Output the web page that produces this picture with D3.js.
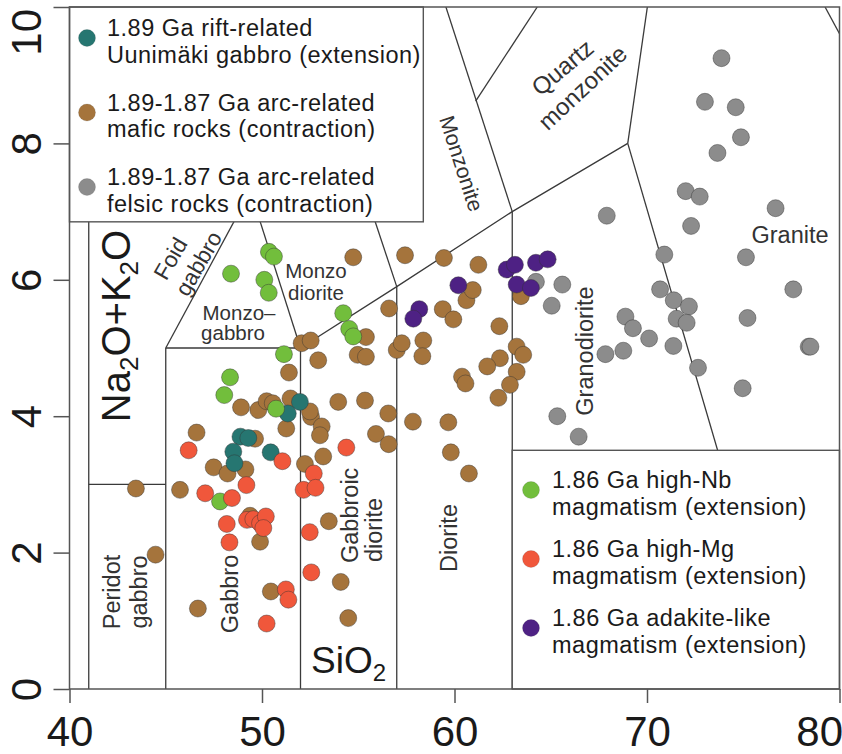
<!DOCTYPE html>
<html>
<head>
<meta charset="utf-8">
<title>TAS plutonic diagram</title>
<script src="https://cdn.jsdelivr.net/npm/d3@7"></script>
<style>
  body { margin: 0; background: #fff; }
  svg { font-family: "Liberation Sans", Arial, sans-serif; }
</style>
</head>
<body>
<div id="chart"></div>
<script>
// SiO2 (wt%) vs Na2O+K2O (wt%) for each group
var riftGabbro = [[48.88,3.70],[49.29,3.68],[48.51,3.48],[48.57,3.31],[50.45,3.47],[51.34,4.04],[51.97,4.21]];

var arcMafic = [[43.45,2.94],[44.47,1.97],[46.60,3.76],[45.74,2.92],[46.67,1.18],[47.49,3.25],[48.21,3.16],
  [49.14,3.22],[48.91,4.13],[49.81,4.09],[50.24,4.22],[50.56,4.19],[51.48,4.26],[51.26,3.82],[51.40,4.64],
  [49.64,3.67],[49.38,2.54],[49.90,2.16],[50.46,1.43],[52.23,3.30],[52.55,3.99],[52.49,4.07],[53.10,3.85],
  [53.01,3.72],[53.18,3.41],[53.47,2.46],[53.96,4.21],[55.35,4.23],[55.92,3.74],[56.56,4.04],[56.58,3.59],
  [54.09,1.57],[54.48,1.04],[57.84,3.92],[59.68,3.91],[59.81,3.47],[60.75,3.16],[52.06,5.07],[52.53,5.11],
  [52.92,4.82],[54.74,6.33],[57.43,6.36],[59.45,6.32],[56.60,5.58],[55.40,5.16],[54.97,4.90],[55.40,4.87],
  [57.00,4.97],[57.26,5.07],[58.38,5.11],[58.33,4.88],[59.39,5.57],[59.94,5.42],[60.62,5.70],[60.95,5.85],
  [61.24,6.22],[62.33,5.32],[63.45,5.76],[63.23,5.02],[63.57,4.90],[62.36,4.85],[61.70,4.73],[63.23,4.65],
  [62.88,4.46],[62.28,4.27],[60.39,4.58],[60.57,4.48]];

var arcFelsic = [[73.87,9.25],[73.01,8.61],[74.61,8.53],[74.88,8.09],[73.66,7.86],[72.01,7.30],[72.74,7.22],
  [76.68,7.05],[67.91,6.94],[72.29,6.79],[70.90,6.37],[75.14,6.33],[77.60,5.86],[70.68,5.86],[71.39,5.70],
  [72.18,5.61],[68.88,5.46],[71.54,5.43],[72.06,5.37],[75.22,5.44],[69.27,5.29],[70.11,5.14],[71.37,5.03],
  [78.40,5.02],[78.49,5.02],[68.77,4.96],[67.84,4.91],[72.65,4.71],[74.97,4.41],[65.34,4.00],[66.45,3.70],
  [64.23,5.97],[65.60,5.93],[65.05,5.62]];

var highNb = [[48.39,6.09],[50.36,6.41],[50.62,6.34],[50.12,6.00],[50.35,5.81],[51.14,4.91],[48.34,4.57],
  [48.04,4.31],[50.73,4.11],[47.82,2.75],[54.22,5.51],[54.53,5.28],[54.74,5.17]];

var highMg = [[46.19,3.50],[47.05,2.87],[48.44,2.80],[49.19,2.99],[51.06,3.34],[48.17,2.42],[48.31,2.15],
  [49.22,2.48],[49.55,2.49],[49.90,2.43],[50.20,2.53],[50.07,2.36],[52.16,2.92],[52.69,3.16],[52.78,2.95],
  [54.38,3.54],[52.48,2.30],[52.56,1.71],[51.24,1.46],[51.37,1.31],[50.24,0.96]];

var adakite = [[60.20,5.92],[58.17,5.57],[57.86,5.43],[62.71,6.15],[63.14,6.22],[64.23,6.25],[64.84,6.30],
  [63.23,5.93],[63.97,5.88]];

var xTicks = [40, 50, 60, 70, 80];
var yTicks = [0, 2, 4, 6, 8, 10];

// field boundaries of the plutonic TAS diagram (Middlemost 1994)
var fieldLines = [
  [[41,0],[41,7]],
  [[41,3],[45,3]],
  [[45,0],[45,5]],
  [[45,5],[52,5]],
  [[45,5],[49.4,7.3]],
  [[52,0],[52,5]],
  [[52,5],[49.4,7.3]],
  [[52,5],[57,5.9],[63,7],[69,8]],
  [[57,0],[57,5.9]],
  [[57,5.9],[53,9.3]],
  [[63,0],[63,7]],
  [[63,7],[57.6,11.7]],
  [[61.1,8.62],[64.3,10]],
  [[69,8],[77.3,0]],
  [[69,8],[71.8,13.5]],
  [[79.25,10],[80,9.61]]
];

var legendTop = [
  {name: "1.89 Ga rift-related", sub: "Uunimäki gabbro (extension)", color: "#267671"},
  {name: "1.89-1.87 Ga arc-related", sub: "mafic rocks (contraction)", color: "#a5743c"},
  {name: "1.89-1.87 Ga arc-related", sub: "felsic rocks (contraction)", color: "#8c8c8c"}
];
var legendBottom = [
  {name: "1.86 Ga high-Nb", sub: "magmatism (extension)", color: "#72be3c"},
  {name: "1.86 Ga high-Mg", sub: "magmatism (extension)", color: "#f0573b"},
  {name: "1.86 Ga adakite-like", sub: "magmatism (extension)", color: "#4e2184"}
];

var W = 842, H = 754;
var x = d3.scaleLinear().domain([40, 80]).range([69.5, 839.5]);
var y = d3.scaleLinear().domain([0, 10]).range([689, 7]);

var svg = d3.select("#chart").append("svg")
  .attr("width", W).attr("height", H);

svg.append("clipPath").attr("id", "plotclip")
  .append("rect")
  .attr("x", x(40)).attr("y", y(10))
  .attr("width", x(80) - x(40)).attr("height", y(0) - y(10));

// field boundary lines
var line = d3.line().x(function(d) { return x(d[0]); }).y(function(d) { return y(d[1]); });
svg.append("g").attr("clip-path", "url(#plotclip)")
  .selectAll("path").data(fieldLines).enter().append("path")
  .attr("d", line)
  .attr("fill", "none")
  .attr("stroke", "#3a3a3a")
  .attr("stroke-width", 1.3);

// field names
var fl = svg.append("g").attr("fill", "#333");
function fieldText(txt, px, py, rot, anchor, size) {
  fl.append("text")
    .attr("transform", "translate(" + px + "," + py + ") rotate(" + rot + ")")
    .attr("text-anchor", anchor || "middle")
    .attr("font-size", size || 23.5)
    .text(txt);
}
fieldText("Peridot", 120, 592, -90);
fieldText("gabbro", 146.5, 592, -90);
fieldText("Gabbro", 237.5, 594, -90);
fieldText("Gabbroic", 358, 563, -90, "start");
fieldText("diorite", 381.5, 562, -90, "start");
fieldText("Diorite", 456.5, 538, -90);
fieldText("Granodiorite", 593, 351, -90);
fieldText("Granite", 751.5, 242.5, 0, "start", 23.5);
fieldText("Monzo", 316, 278, 0, "middle", 20.5);
fieldText("diorite", 316, 300, 0, "middle", 20.5);
fieldText("Monzo\u2013", 239, 320, 0, "middle", 20.5);
fieldText("gabbro", 233, 340, 0, "middle", 20.5);

function rotText(txt, px, py, rot, size) {
  fl.append("text")
    .attr("transform", "translate(" + px + "," + py + ") rotate(" + rot + ")")
    .attr("text-anchor", "middle")
    .attr("dy", "0.35em")
    .attr("font-size", size)
    .text(txt);
}
rotText("Monzonite", 461.5, 163.5, 72, 21.5);
rotText("Quartz", 562.5, 67.5, -40, 24);
rotText("monzonite", 582.5, 87.5, -43, 24);
rotText("Foid", 170.5, 258.5, -60, 22.5);
rotText("gabbro", 198.5, 263.5, -60, 22.5);

// legend boxes sit over the field lines
svg.append("rect")
  .attr("x", x(40)).attr("y", y(10))
  .attr("width", x(58.38) - x(40)).attr("height", y(6.85) - y(10))
  .attr("fill", "#fff").attr("stroke", "#555").attr("stroke-width", 1.4);
svg.append("rect")
  .attr("x", x(63)).attr("y", y(3.5))
  .attr("width", x(80) - x(63)).attr("height", y(0) - y(3.5))
  .attr("fill", "#fff").attr("stroke", "#555").attr("stroke-width", 1.4);

// plot frame
svg.append("rect")
  .attr("x", x(40)).attr("y", y(10))
  .attr("width", x(80) - x(40)).attr("height", y(0) - y(10))
  .attr("fill", "none").attr("stroke", "#555").attr("stroke-width", 1.5);

// axes
var xAxis = svg.append("g")
  .attr("transform", "translate(0," + y(0) + ")")
  .call(d3.axisBottom(x).tickValues(xTicks).tickSize(14).tickFormat(d3.format("d")));
var yAxis = svg.append("g")
  .attr("transform", "translate(" + x(40) + ",0)")
  .call(d3.axisLeft(y).tickValues(yTicks).tickSize(16).tickFormat(d3.format("d")));

[xAxis, yAxis].forEach(function(g) {
  g.select(".domain").remove();
  g.selectAll(".tick line").attr("stroke", "#555").attr("stroke-width", 1.5);
  g.selectAll(".tick text").attr("fill", "#1a1a1a").attr("font-size", 42)
    .attr("font-family", "Liberation Sans, Arial, sans-serif");
});
xAxis.selectAll(".tick text").attr("y", 57).attr("dy", 0)
  .attr("text-anchor", function(d) { return d === 80 ? "end" : "middle"; })
  .attr("x", function(d) { return d === 80 ? 3 : 0; });
yAxis.selectAll(".tick text")
  .attr("transform", "rotate(-90)")
  .attr("dy", 0).attr("y", -29)
  .attr("text-anchor", function(d) { return d === 10 ? "end" : "middle"; })
  .attr("x", function(d) { return d === 10 ? -1.5 : 0; });

// axis titles
var yt = svg.append("text")
  .attr("transform", "translate(130,326) rotate(-90)")
  .attr("text-anchor", "middle").attr("font-size", 40).attr("fill", "#1a1a1a");
yt.append("tspan").text("Na");
yt.append("tspan").attr("font-size", 26).attr("dy", 8).text("2");
yt.append("tspan").attr("dy", -8).text("O+K");
yt.append("tspan").attr("font-size", 26).attr("dy", 8).text("2");
yt.append("tspan").attr("dy", -8).text("O");

var xt = svg.append("text")
  .attr("x", 311).attr("y", 673)
  .attr("font-size", 37).attr("fill", "#1a1a1a");
xt.append("tspan").text("SiO");
xt.append("tspan").attr("font-size", 24).attr("dy", 8).text("2");

// sample points
var groups = [
  {data: arcFelsic, color: legendTop[2].color},
  {data: arcMafic, color: legendTop[1].color},
  {data: riftGabbro, color: legendTop[0].color},
  {data: highNb, color: legendBottom[0].color},
  {data: highMg, color: legendBottom[1].color},
  {data: adakite, color: legendBottom[2].color}
];
var pts = svg.append("g");
groups.forEach(function(grp) {
  pts.append("g").selectAll("circle").data(grp.data).enter().append("circle")
    .attr("cx", function(d) { return x(d[0]); })
    .attr("cy", function(d) { return y(d[1]); })
    .attr("r", 8.5)
    .attr("fill", grp.color)
    .attr("stroke", "#333")
    .attr("stroke-opacity", 0.55)
    .attr("stroke-width", 0.8);
});

// legends
function drawLegend(items, cx, tx, base, step, gap) {
  var g = svg.append("g").attr("font-size", 23.5).attr("fill", "#1a1a1a")
    .attr("letter-spacing", 0.5);
  items.forEach(function(it, i) {
    var b = base + i * step;
    g.append("circle").attr("cx", cx).attr("cy", b + 2).attr("r", 8.5)
      .attr("fill", it.color).attr("stroke", "#333").attr("stroke-opacity", 0.25).attr("stroke-width", 0.6);
    g.append("text").attr("x", tx).attr("y", b).text(it.name);
    g.append("text").attr("x", tx).attr("y", b + gap).text(it.sub);
  });
}
drawLegend(legendTop, 87, 107, 36, 74.5, 26.5);
drawLegend(legendBottom, 531, 552, 488, 69, 26.5);
</script>
</body>
</html>
